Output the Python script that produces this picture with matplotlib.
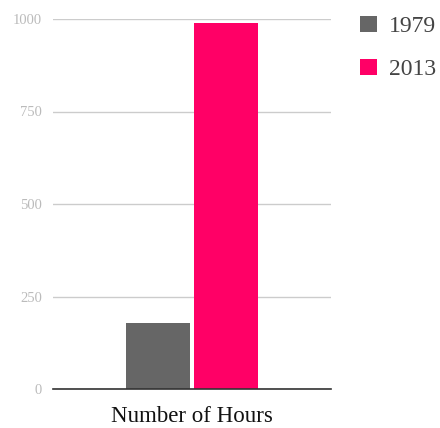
import matplotlib
matplotlib.use('Agg')
import matplotlib.pyplot as plt

# data
categories = ['Number of Hours']
years = ['1979', '2013']
hours_1979 = [178]
hours_2013 = [988]
colors = ['#666666', '#ff0066']
yticks = [0, 250, 500, 750, 1000]

plt.rcParams['font.family'] = ['Liberation Serif', 'DejaVu Serif']

fig = plt.figure(figsize=(4.4, 4.28), dpi=100)
ax = fig.add_axes([53 / 440, 1 - 389 / 428, 278 / 440, 370 / 428])

x = list(range(len(categories)))
w = 0.23
ax.bar([i - 0.121 for i in x], hours_1979, width=w, color=colors[0], label=years[0], zorder=3)
ax.bar([i + 0.121 for i in x], hours_2013, width=w, color=colors[1], label=years[1], zorder=3)

ax.set_xlim(-0.5, 0.5)
ax.set_ylim(0, 1000)
ax.set_yticks(yticks)
ax.set_yticklabels([str(t) for t in yticks], color='#bbbbbb', fontsize=10.5)
ax.set_xticks(x)
ax.set_xticklabels(categories, fontsize=16.5, color='#111111')
ax.tick_params(axis='both', length=0)
ax.tick_params(axis='y', pad=8)
ax.tick_params(axis='x', pad=12)
ax.grid(axis='y', color='#cccccc', linewidth=1, zorder=0)
for s in ['top', 'right', 'left']:
    ax.spines[s].set_visible(False)
ax.spines['bottom'].set_color('#333333')
ax.spines['bottom'].set_linewidth(1.2)
ax.spines['bottom'].set_zorder(4)

leg = ax.legend(loc='upper left', bbox_to_anchor=(1.072, 1.034), frameon=False,
                fontsize=17, handlelength=0.7, handleheight=0.7,
                handletextpad=0.5, labelspacing=0.9, labelcolor='#444444',
                borderaxespad=0)

plt.savefig('out.png')
plt.close()
